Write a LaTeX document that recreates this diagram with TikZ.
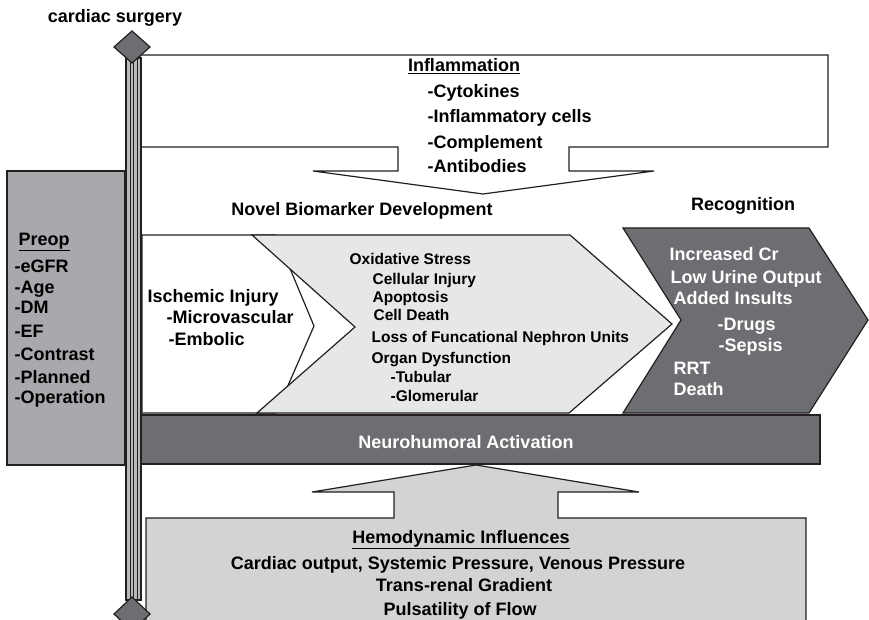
\documentclass[tikz,border=0pt]{standalone}
\usepackage{fontspec}
\setmainfont{Liberation Sans}
\definecolor{darkbox}{HTML}{6D6E71}
\definecolor{preopgray}{HTML}{A7A9AC}
\definecolor{lightbox}{HTML}{E6E7E8}
\definecolor{hemogray}{HTML}{D1D3D4}
\definecolor{edge}{HTML}{231F20}
\tikzset{
	txt/.style = {inner sep = 0pt, anchor = base west},
	ctxt/.style = {inner sep = 0pt, anchor = base},
	smalltxt/.style = {txt, font = \fontsize{15.5}{17}\selectfont\bfseries},
	outline/.style = {draw = edge, line join = miter},
}

\begin{document}
\begin{tikzpicture}[x = 1pt, y = -1pt, line width = 1.2pt,
		font = \fontsize{18}{20}\selectfont\bfseries]
	\useasboundingbox (0,0) rectangle (869,620);
	\clip (0,0) rectangle (869,620);
	% inflammation, big arrow pointing down
	\draw [outline, fill = white] (140,55) -- (828,55) -- (828,147) -- (569,147) -- (569,171)
		-- (654,171) -- (483,194) -- (313,171) -- (398,171) -- (398,147) -- (140,147) -- cycle;
	% preop column
	\draw [outline, fill = preopgray] (7,171) rectangle (125,465);
	% middle row: ischemic arrow, injury chevron, recognition chevron
	\draw [outline, fill = white] (142,235) -- (276,235) -- (314,326) -- (276,413) -- (142,413) -- cycle;
	\draw [outline, fill = lightbox] (252,235) -- (570,235) -- (672,324) -- (569,413) -- (257,413) -- (355,327) -- cycle;
	\draw [outline, fill = darkbox] (623,228) -- (809,228) -- (868,320) -- (809,413) -- (623,413) -- (681,320) -- cycle;
	% neurohumoral bar
	\draw [outline, fill = darkbox] (140,415) rectangle (820,464);
	% hemodynamic, big arrow pointing up
	\draw [outline, fill = hemogray] (146,640) -- (146,518) -- (394,518) -- (394,492) -- (312,492)
		-- (476,465) -- (639,492) -- (558,492) -- (558,518) -- (806,518) -- (806,640);
	% time line
	\fill [gray!55] (126,58) rectangle (141,600);
	\foreach \x in {130, 133.5, 137}
		\draw [edge, line width = 0.8pt] (\x,58) -- (\x,600);
	\draw [outline] (126,58) rectangle (141,600);
	\draw [outline, fill = darkbox] (132,31) -- (150,47) -- (132,63) -- (114,47) -- cycle;
	\draw [outline, fill = darkbox] (132,597) -- (150,614) -- (132,631) -- (114,614) -- cycle;

	\node [ctxt] (surgery) at (115,23) {cardiac surgery};
	\node [ctxt] (inflam) at (464,72) {\underline{Inflammation}};
	\foreach \name/\t/\y in {cyto/-Cytokines/98, cells/-Inflammatory cells/123,
			compl/-Complement/149, anti/-Antibodies/173}
		\node [txt] (inflam-\name) at (427,\y) {\t};
	\node [ctxt] (novel) at (362,216) {Novel Biomarker Development};
	\node [ctxt] (recog) at (743,211) {Recognition};

	\node [txt] (preop) at (18,245) {\underline{Preop}};
	\foreach \name/\t/\y in {egfr/-eGFR/272, age/-Age/293, dm/-DM/313, ef/-EF/337,
			contrast/-Contrast/360, planned/-Planned/383, oper/-Operation/403}
		\node [txt] (preop-\name) at (14,\y) {\t};

	\node [txt] (isch) at (147,302) {Ischemic Injury};
	\node [txt] (isch-micro) at (166,323) {-Microvascular};
	\node [txt] (isch-emb) at (168,345) {-Embolic};

	\foreach \name/\t/\x/\y in {oxid/Oxidative Stress/349/264, cellinj/Cellular Injury/372/284,
			apop/Apoptosis/372/302, death/Cell Death/373/320,
			loss/Loss of Funcational Nephron Units/371/342, organ/Organ Dysfunction/371/363,
			tub/-Tubular/390/382, glom/-Glomerular/390/401}
		\node [smalltxt] (inj-\name) at (\x,\y) {\t};

	\foreach \name/\t/\x/\y in {cr/Increased Cr/669/260, urine/Low Urine Output/670/283,
			insult/Added Insults/673/304, drugs/-Drugs/717/330, sepsis/-Sepsis/718/351,
			rrt/RRT/673/374, death/Death/673/395}
		\node [txt, white] (recog-\name) at (\x,\y) {\t};

	\node [ctxt, white] (neuro) at (466,448) {Neurohumoral Activation};

	\node [ctxt] (hemo) at (461,543) {\underline{Hemodynamic Influences}};
	\node [ctxt] (hemo-press) at (458,569) {Cardiac output, Systemic Pressure, Venous Pressure};
	\node [ctxt] (hemo-grad) at (464,591) {Trans-renal Gradient};
	\node [ctxt] (hemo-flow) at (460,615) {Pulsatility of Flow};
\end{tikzpicture}
\end{document}
